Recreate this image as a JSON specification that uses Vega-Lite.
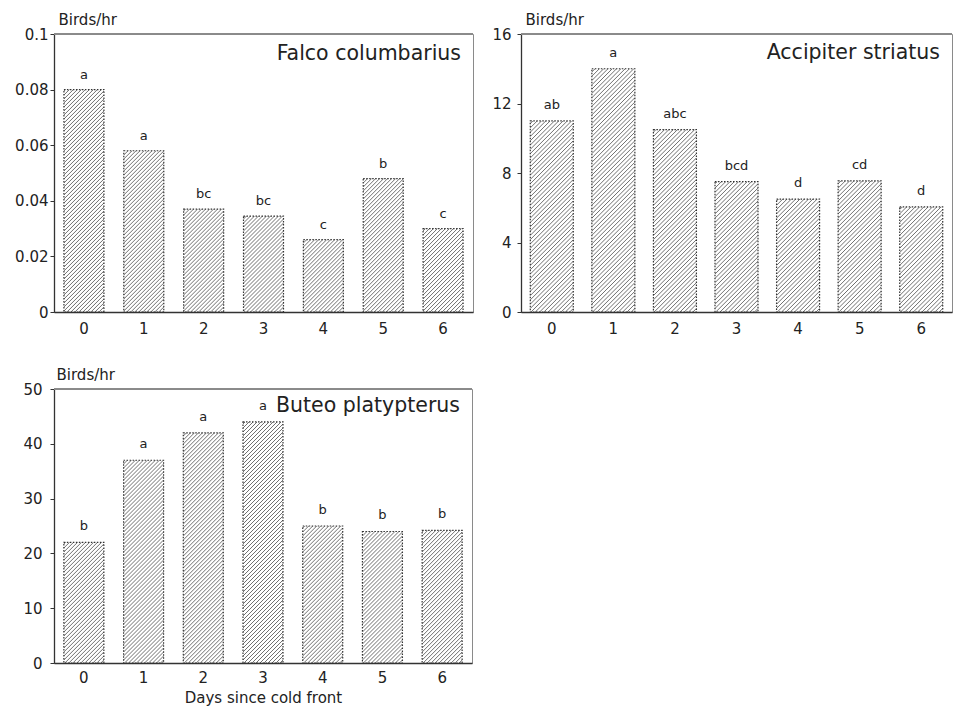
{
  "$schema": "https://vega.github.io/schema/vega-lite/v6.json",
  "background": "white",
  "padding": {"left": 14, "top": 11, "right": 0, "bottom": 0},
  "datasets": {
    "falco": [
      {"day": 0, "rate": 0.080, "group": "a"},
      {"day": 1, "rate": 0.058, "group": "a"},
      {"day": 2, "rate": 0.037, "group": "bc"},
      {"day": 3, "rate": 0.0345, "group": "bc"},
      {"day": 4, "rate": 0.026, "group": "c"},
      {"day": 5, "rate": 0.048, "group": "b"},
      {"day": 6, "rate": 0.030, "group": "c"}
    ],
    "accipiter": [
      {"day": 0, "rate": 11.0, "group": "ab"},
      {"day": 1, "rate": 14.0, "group": "a"},
      {"day": 2, "rate": 10.5, "group": "abc"},
      {"day": 3, "rate": 7.5, "group": "bcd"},
      {"day": 4, "rate": 6.5, "group": "d"},
      {"day": 5, "rate": 7.55, "group": "cd"},
      {"day": 6, "rate": 6.05, "group": "d"}
    ],
    "buteo": [
      {"day": 0, "rate": 22, "group": "b"},
      {"day": 1, "rate": 37, "group": "a"},
      {"day": 2, "rate": 42, "group": "a"},
      {"day": 3, "rate": 44, "group": "a"},
      {"day": 4, "rate": 25, "group": "b"},
      {"day": 5, "rate": 24, "group": "b"},
      {"day": 6, "rate": 24.2, "group": "b"}
    ]
  },
  "vconcat": [
    {
      "hconcat": [
        {
          "width": 419,
          "height": 278,
          "data": {"name": "falco"},
          "title": {"text": "Falco columbarius", "offset": -52},
          "layer": [
            {"mark": {"type": "point", "style": "hatch", "filled": false, "stroke": "#707070", "strokeWidth": 1, "opacity": 1, "size": 4, "clip": true},
             "encoding": {
               "x": {"field": "day", "type": "ordinal", "scale": {"paddingInner": 0, "paddingOuter": 0}, "axis": {"title": null}},
               "y": {"datum": 0.05, "type": "quantitative", "scale": {"domain": [0, 0.1], "nice": false},
                     "axis": {"title": "Birds/hr", "values": [0, 0.02, 0.04, 0.06, 0.08, 0.1], "format": "~g", "labelPadding": 2, "titleFontSize": 15}}
             }},
            {"mark": {"type": "bar", "fill": "white", "width": 44, "strokeWidth": 0},
             "encoding": {
               "x": {"field": "day", "type": "ordinal", "axis": {"title": null}},
               "y": {"field": "rate", "type": "quantitative",
                     "axis": {"title": "Birds/hr", "values": [0, 0.02, 0.04, 0.06, 0.08, 0.1], "format": "~g", "labelPadding": 2, "titleFontSize": 15}},
               "y2": {"datum": 0.1}
             }},
            {"mark": {"type": "bar", "fill": null, "width": 40, "stroke": "#333", "strokeWidth": 1.2, "strokeDash": [1.5, 1.5]},
             "encoding": {
               "x": {"field": "day", "type": "ordinal", "axis": {"title": null}},
               "y": {"field": "rate", "type": "quantitative",
                     "axis": {"title": "Birds/hr", "values": [0, 0.02, 0.04, 0.06, 0.08, 0.1], "format": "~g", "labelPadding": 2, "titleFontSize": 15}}
             }},
            {"mark": {"type": "rule", "color": "#8a8a8a", "strokeWidth": 1},
             "encoding": {
               "y": {"datum": 0.1, "type": "quantitative",
                     "axis": {"title": "Birds/hr", "values": [0, 0.02, 0.04, 0.06, 0.08, 0.1], "format": "~g", "labelPadding": 2, "titleFontSize": 15}}
             }},
            {"mark": {"type": "text", "baseline": "alphabetic", "dy": -11, "fontSize": 13, "color": "#222"},
             "encoding": {
               "x": {"field": "day", "type": "ordinal", "axis": {"title": null}},
               "y": {"field": "rate", "type": "quantitative",
                     "axis": {"title": "Birds/hr", "values": [0, 0.02, 0.04, 0.06, 0.08, 0.1], "format": "~g", "labelPadding": 2, "titleFontSize": 15}},
               "text": {"field": "group"}
             }}
          ]
        },
        {
          "width": 431,
          "height": 278,
          "data": {"name": "accipiter"},
          "title": {"text": "Accipiter striatus", "offset": -51},
          "layer": [
            {"mark": {"type": "point", "style": "hatch", "filled": false, "stroke": "#707070", "strokeWidth": 1, "opacity": 1, "size": 4.6225, "clip": true},
             "encoding": {
               "x": {"field": "day", "type": "ordinal", "scale": {"paddingInner": 0, "paddingOuter": 0}, "axis": {"title": null}},
               "y": {"datum": 8, "type": "quantitative", "scale": {"domain": [0, 16], "nice": false},
                     "axis": {"title": "Birds/hr", "values": [0, 4, 8, 12, 16], "labelPadding": 6, "titleFontSize": 15}}
             }},
            {"mark": {"type": "bar", "fill": "white", "width": 47, "strokeWidth": 0},
             "encoding": {
               "x": {"field": "day", "type": "ordinal", "axis": {"title": null}},
               "y": {"field": "rate", "type": "quantitative",
                     "axis": {"title": "Birds/hr", "values": [0, 4, 8, 12, 16], "labelPadding": 6, "titleFontSize": 15}},
               "y2": {"datum": 16}
             }},
            {"mark": {"type": "bar", "fill": null, "width": 43, "stroke": "#333", "strokeWidth": 1.2, "strokeDash": [1.5, 1.5]},
             "encoding": {
               "x": {"field": "day", "type": "ordinal", "axis": {"title": null}},
               "y": {"field": "rate", "type": "quantitative",
                     "axis": {"title": "Birds/hr", "values": [0, 4, 8, 12, 16], "labelPadding": 6, "titleFontSize": 15}}
             }},
            {"mark": {"type": "rule", "color": "#8a8a8a", "strokeWidth": 1},
             "encoding": {
               "y": {"datum": 16, "type": "quantitative",
                     "axis": {"title": "Birds/hr", "values": [0, 4, 8, 12, 16], "labelPadding": 6, "titleFontSize": 15}}
             }},
            {"mark": {"type": "text", "baseline": "alphabetic", "dy": -12, "fontSize": 13, "color": "#222"},
             "encoding": {
               "x": {"field": "day", "type": "ordinal", "axis": {"title": null}},
               "y": {"field": "rate", "type": "quantitative",
                     "axis": {"title": "Birds/hr", "values": [0, 4, 8, 12, 16], "labelPadding": 6, "titleFontSize": 15}},
               "text": {"field": "group"}
             }}
          ]
        }
      ],
      "spacing": 17
    },
    {
      "width": 418,
      "height": 274,
      "data": {"name": "buteo"},
      "title": {"text": "Buteo platypterus", "offset": -49},
      "layer": [
        {"mark": {"type": "point", "style": "hatch", "filled": false, "stroke": "#707070", "strokeWidth": 1, "opacity": 1, "size": 4, "clip": true},
         "encoding": {
           "x": {"field": "day", "type": "ordinal", "scale": {"paddingInner": 0, "paddingOuter": 0},
                 "axis": {"title": "Days since cold front", "titleFontSize": 15, "titlePadding": 5, "titleBaseline": "top", "labelPadding": 7}},
           "y": {"datum": 25, "type": "quantitative", "scale": {"domain": [0, 50], "nice": false},
                 "axis": {"title": "Birds/hr", "values": [0, 10, 20, 30, 40, 50], "labelPadding": 8, "titleX": 2, "titleFontSize": 15}}
         }},
        {"mark": {"type": "bar", "fill": "white", "width": 44, "strokeWidth": 0},
         "encoding": {
           "x": {"field": "day", "type": "ordinal",
                 "axis": {"title": "Days since cold front", "titleFontSize": 15, "titlePadding": 5, "titleBaseline": "top", "labelPadding": 7}},
           "y": {"field": "rate", "type": "quantitative",
                 "axis": {"title": "Birds/hr", "values": [0, 10, 20, 30, 40, 50], "labelPadding": 8, "titleX": 2, "titleFontSize": 15}},
           "y2": {"datum": 50}
         }},
        {"mark": {"type": "bar", "fill": null, "width": 40, "stroke": "#333", "strokeWidth": 1.2, "strokeDash": [1.5, 1.5]},
         "encoding": {
           "x": {"field": "day", "type": "ordinal",
                 "axis": {"title": "Days since cold front", "titleFontSize": 15, "titlePadding": 5, "titleBaseline": "top", "labelPadding": 7}},
           "y": {"field": "rate", "type": "quantitative",
                 "axis": {"title": "Birds/hr", "values": [0, 10, 20, 30, 40, 50], "labelPadding": 8, "titleX": 2, "titleFontSize": 15}}
         }},
        {"mark": {"type": "rule", "color": "#8a8a8a", "strokeWidth": 1},
         "encoding": {
           "y": {"datum": 50, "type": "quantitative",
                 "axis": {"title": "Birds/hr", "values": [0, 10, 20, 30, 40, 50], "labelPadding": 8, "titleX": 2, "titleFontSize": 15}}
         }},
        {"mark": {"type": "text", "baseline": "alphabetic", "dy": -12, "fontSize": 13, "color": "#222"},
         "encoding": {
           "x": {"field": "day", "type": "ordinal",
                 "axis": {"title": "Days since cold front", "titleFontSize": 15, "titlePadding": 5, "titleBaseline": "top", "labelPadding": 7}},
           "y": {"field": "rate", "type": "quantitative",
                 "axis": {"title": "Birds/hr", "values": [0, 10, 20, 30, 40, 50], "labelPadding": 8, "titleX": 2, "titleFontSize": 15}},
           "text": {"field": "group"}
         }}
      ]
    }
  ],
  "spacing": 29,
  "config": {
    "font": "DejaVu Sans",
    "view": {"stroke": "#8a8a8a", "strokeWidth": 1},
    "axis": {
      "grid": false,
      "domainColor": "#333",
      "domainWidth": 1.3,
      "tickColor": "#333",
      "labelColor": "#222",
      "labelFont": "DejaVu Sans",
      "labelFontSize": 15,
      "titleFont": "DejaVu Sans",
      "titleFontWeight": "normal",
      "titleColor": "#222",
      "zindex": 1
    },
    "axisX": {"ticks": false, "labelAngle": 0, "labelPadding": 9},
    "axisY": {"tickSize": 4, "titleAngle": 0, "titleAlign": "left", "titleBaseline": "alphabetic", "titleX": 4, "titleY": -10},
    "title": {"anchor": "end", "frame": "group", "fontSize": 20.5, "fontWeight": "normal", "color": "#222", "baseline": "alphabetic", "dx": -12},
    "style": {
      "hatch": {
        "shape": "M-20,-170l40,-40m-40,44l40,-40m-40,44l40,-40m-40,44l40,-40m-40,44l40,-40m-40,44l40,-40m-40,44l40,-40m-40,44l40,-40m-40,44l40,-40m-40,44l40,-40m-40,44l40,-40m-40,44l40,-40m-40,44l40,-40m-40,44l40,-40m-40,44l40,-40m-40,44l40,-40m-40,44l40,-40m-40,44l40,-40m-40,44l40,-40m-40,44l40,-40m-40,44l40,-40m-40,44l40,-40m-40,44l40,-40m-40,44l40,-40m-40,44l40,-40m-40,44l40,-40m-40,44l40,-40m-40,44l40,-40m-40,44l40,-40m-40,44l40,-40m-40,44l40,-40m-40,44l40,-40m-40,44l40,-40m-40,44l40,-40m-40,44l40,-40m-40,44l40,-40m-40,44l40,-40m-40,44l40,-40m-40,44l40,-40m-40,44l40,-40m-40,44l40,-40m-40,44l40,-40m-40,44l40,-40m-40,44l40,-40m-40,44l40,-40m-40,44l40,-40m-40,44l40,-40m-40,44l40,-40m-40,44l40,-40m-40,44l40,-40m-40,44l40,-40m-40,44l40,-40m-40,44l40,-40m-40,44l40,-40m-40,44l40,-40m-40,44l40,-40m-40,44l40,-40m-40,44l40,-40m-40,44l40,-40m-40,44l40,-40m-40,44l40,-40m-40,44l40,-40m-40,44l40,-40m-40,44l40,-40m-40,44l40,-40m-40,44l40,-40m-40,44l40,-40m-40,44l40,-40m-40,44l40,-40m-40,44l40,-40m-40,44l40,-40m-40,44l40,-40m-40,44l40,-40m-40,44l40,-40m-40,44l40,-40m-40,44l40,-40m-40,44l40,-40m-40,44l40,-40m-40,44l40,-40m-40,44l40,-40m-40,44l40,-40m-40,44l40,-40m-40,44l40,-40m-40,44l40,-40m-40,44l40,-40m-40,44l40,-40m-40,44l40,-40m-40,44l40,-40m-40,44l40,-40m-40,44l40,-40m-40,44l40,-40m-40,44l40,-40m-40,44l40,-40m-40,44l40,-40m-40,44l40,-40m-40,44l40,-40m-40,44l40,-40"
      }
    }
  }
}
